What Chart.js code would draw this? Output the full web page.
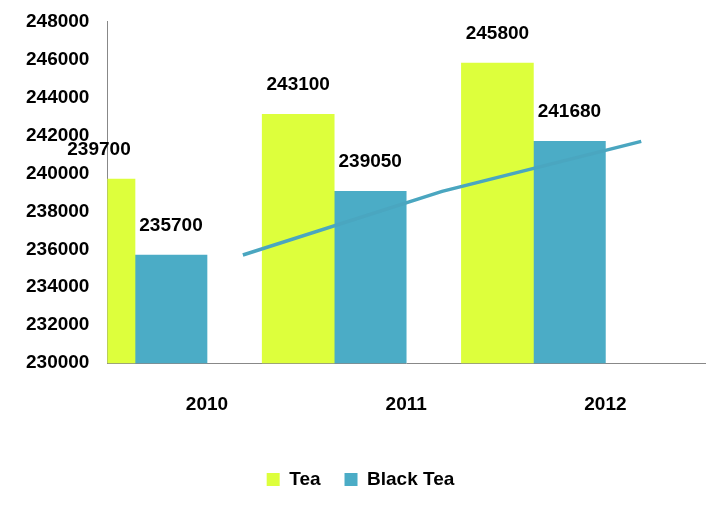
<!DOCTYPE html>
<html><head><meta charset="utf-8">
<script src="https://cdn.jsdelivr.net/npm/chart.js@4/dist/chart.umd.min.js"></script>
<style>html,body{margin:0;padding:0;background:#fff}#w{width:719px;height:505px}</style>
</head><body><div id="w"><canvas id="c"></canvas></div>
<script>
const categories = ["2010","2011","2012"];
const teaValues = [239700,243100,245800];
const blackTeaValues = [235700,239050,241680];
const yTicks = [230000,248000,2000];

const FONT = "'Liberation Sans', Arial, sans-serif";
const labelPlugin = {
  id:'labels',
  afterDatasetsDraw(chart){
    const ctx = chart.ctx;
    ctx.save();
    ctx.font = "bold 19px " + FONT;
    ctx.fillStyle = "#000";
    ctx.textAlign = "center";
    ctx.textBaseline = "bottom";
    [0,1].forEach(di=>{
      chart.getDatasetMeta(di).data.forEach((el,i)=>{
        const v = chart.data.datasets[di].data[i];
        ctx.fillText(String(v), el.x, el.y - 20);
      });
    });
    ctx.restore();
  }
};

new Chart(document.getElementById('c'), {
  data:{
    labels: categories,
    datasets:[
      {type:'bar', label:'Tea', data:teaValues, backgroundColor:'#DDFF3C', barThickness:72, order:2},
      {type:'bar', label:'Black Tea', data:blackTeaValues, backgroundColor:'#4BACC6', barThickness:72, order:2},
      {type:'line', label:'trend', data:blackTeaValues.map((v,i)=>({x:i+0.18,y:v})), xAxisID:'x2', borderColor:'#4AA6C0', borderWidth:3.5, pointRadius:0, fill:false, tension:0, order:1}
    ]
  },
  options:{
    responsive:true, maintainAspectRatio:false, animation:false,
    layout:{padding:{left:16,right:14,top:14,bottom:6}},
    plugins:{
      legend:{position:'bottom', labels:{filter:it=>it.text!=='trend', boxWidth:13, boxHeight:13, padding:24, color:'#000', font:{family:FONT,size:19,weight:'bold'}}},
      tooltip:{enabled:false}
    },
    scales:{
      x:{grid:{display:false, drawTicks:false}, border:{color:'#888'}, ticks:{color:'#000', padding:30, font:{family:FONT,size:19,weight:'bold'}}},
      x2:{type:'linear', min:-0.5, max:2.5, display:false},
      y:{min:yTicks[0], max:yTicks[1], grid:{display:false}, border:{color:'#888'}, ticks:{stepSize:yTicks[2], callback:v=>String(v), color:'#000', padding:10, font:{family:FONT,size:19,weight:'bold'}}}
    }
  },
  plugins:[labelPlugin]
});
</script></body></html>
